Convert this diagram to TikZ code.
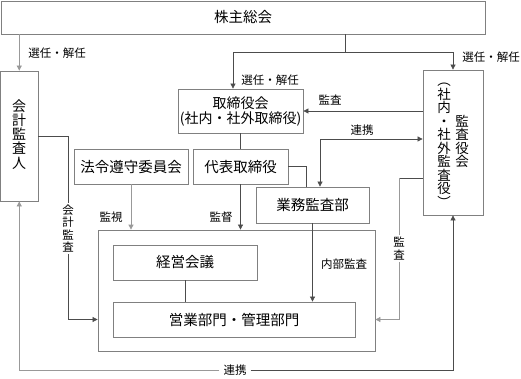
\documentclass[tikz,border=0pt]{standalone}
\usepackage{fontspec}
\setmainfont{Noto Sans CJK JP}
\usetikzlibrary{arrows.meta, positioning}

\begin{document}
\begin{tikzpicture}[
      x=1pt, y=-1pt,
      >={Triangle[length=5pt, width=5pt]},
      box/.style={draw=black!50, line width=0.8pt, inner sep=0pt, align=center, font=\fontsize{14.5}{17}\selectfont},
      conn/.style={draw=black!70, line width=0.7pt},
      lconn/.style={draw=black!40, line width=0.8pt},
      arrow/.style={->},
      lab/.style={inner sep=1pt, font=\fontsize{11.5}{13}\selectfont},
      vchar/.style={inner sep=0pt, font=\fontsize{13.5}{13.5}\selectfont, text height=11.9pt, text depth=1.6pt},
      vlab/.style={inner sep=1pt, font=\fontsize{11.5}{11.5}\selectfont, text height=10.1pt, text depth=1.4pt}
    ]
      \useasboundingbox (0,0) rectangle (521,379);

      % boxes
      \node[box, minimum width=484, minimum height=33] (soukai) at (243,17.5) {株主総会};
      \node[box, minimum width=37.5, minimum height=130] (kaikei) at (19.25,136) {};
      \node[box, minimum width=125, minimum height=44, font=\fontsize{14}{16}\selectfont] (torishimari) at (240.5,111) {取締役会\\[-1pt](社内・社外取締役)};
      \node[box, minimum width=60, minimum height=145] (kansayaku) at (453,142.5) {};
      \node[box, minimum width=114, minimum height=34.5] (houryou) at (131,166.75) {法令遵守委員会};
      \node[box, minimum width=95, minimum height=34.5] (daihyou) at (240.5,166.75) {代表取締役};
      \node[box, minimum width=113, minimum height=36] (gyoumu) at (312.5,205) {業務監査部};
      \node[box, minimum width=277, minimum height=121] (jigyou) at (236.5,290.5) {};
      \node[box, minimum width=144, minimum height=35] (keiei) at (185,262.5) {経営会議};
      \node[box, minimum width=242, minimum height=35] (eigyou) at (234,319.5) {営業部門・管理部門};

      % vertical texts
      \foreach \c [count=\i] in {会,計,監,査,人}
        \node[vchar, font=\fontsize{14}{14}\selectfont] (kj\i) at (19.25,92+14.2*\i) {\c};
      \foreach \c [count=\i] in {︵,社,内,・,社,外,監,査,役,︶}
        \node[vchar] (kl\i) at (444,67+13.5*\i) {\c};
      \foreach \c [count=\i] in {監,査,役,会}
        \node[vchar] (kr\i) at (462,107.5+13.5*\i) {\c};

      % appointment
      \coordinate (split) at (345,52);
      \draw[lconn, arrow] (kaikei.north |- soukai.south) -- (kaikei.north);
      \draw[conn] (soukai.south -| split) -- (split);
      \draw[conn, arrow] (split) -| ([xshift=-7.5pt]torishimari.north);
      \draw[conn, arrow] (split) -| (kansayaku.north);
      \node[lab] (senin1) at (57,53) {選任・解任};
      \node[lab] (senin2) at (270,80) {選任・解任};
      \node[lab] (senin3) at (491,57) {選任・解任};

      % audit board
      \draw[conn, arrow] (kansayaku.west |- torishimari.east) -- (torishimari.east);
      \node[lab] (kansa1) at (330,100) {監査};
      \coordinate (rk) at (320,139);
      \draw[conn, <->] (rk |- gyoumu.north) -- (rk) -- (kansayaku.west |- rk);
      \node[lab] (renkei1) at (362,130) {連携};

      % executives
      \draw[conn] (torishimari) -- (daihyou);
      \draw[conn] (daihyou.east) -| ([xshift=-6.5pt]gyoumu.north);
      \draw[conn, arrow] (daihyou.south) -- (daihyou.south |- jigyou.north);
      \draw[lconn, arrow] (houryou.south) -- (houryou.south |- jigyou.north);
      \node[lab] (kanshi) at (111,217) {監視};
      \node[lab] (kantoku) at (221,217) {監督};
      \draw[conn] (keiei) -- (keiei |- eigyou.north);
      \draw[conn, arrow] (gyoumu.south) -- (gyoumu.south |- eigyou.north);
      \node[lab] (naibu) at (344,264) {内部監査};

      % accounting audit
      \foreach \c [count=\i] in {会,計,監,査}
        \node[vlab] (kk\i) at (68,197.5+12.5*\i) {\c};
      \draw[conn] (kaikei.east) -| (kk1.north);
      \draw[conn, arrow] (kk4.south) |- (jigyou.west |- eigyou);

      % audit by kansayaku
      \foreach \c [count=\i] in {監,査}
        \node[vlab] (ks\i) at (399,229+13*\i) {\c};
      \coordinate (kb) at (399,178);
      \draw[conn] (kansayaku.west |- kb) -- (kb);
      \draw[lconn] (kb) -- (ks1.north);
      \draw[lconn, arrow] (ks2.south) |- (jigyou.east |- eigyou);

      % cooperation
      \node[lab, inner xsep=4pt] (renkei2) at (235,370) {連携};
      \draw[lconn, arrow] (renkei2.west) -| (kaikei.south);
      \draw[conn, arrow] (renkei2.east) -| (kansayaku.south);
    \end{tikzpicture}
\end{document}
